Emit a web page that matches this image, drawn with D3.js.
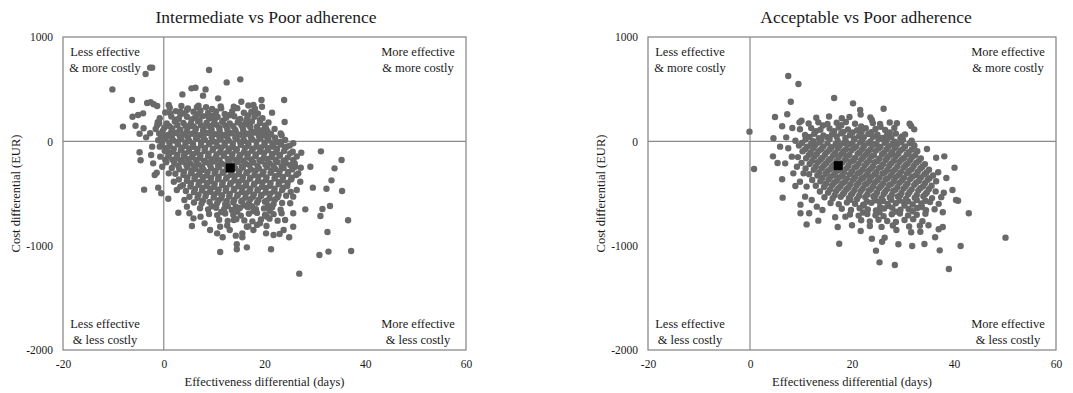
<!DOCTYPE html>
<html>
<head>
<meta charset="utf-8">
<script src="https://cdn.jsdelivr.net/npm/d3@7/dist/d3.min.js"></script>
<style>
  body { margin: 0; background: #fff; }
  svg text { font-family: "Liberation Serif", "Times New Roman", serif; fill: #1a1a1a; }
</style>
</head>
<body>
<div id="chart"></div>
<script>
// axis ticks (shared by both panels)
const xTicks = [-20, 0, 20, 40, 60];
const yTicks = [1000, 0, -1000, -2000];
const titles = ["Intermediate vs Poor adherence", "Acceptable vs Poor adherence"];
const xLabel = "Effectiveness differential (days)";
const yLabel = "Cost differential (EUR)";
const quadTL = ["Less effective", "& more costly"];
const quadTR = ["More effective", "& more costly"];
const quadBL = ["Less effective", "& less costly"];
const quadBR = ["More effective", "& less costly"];

// mean ICER point per panel [days, EUR]
const meanIntermediate = [13.2, -255];
const meanAcceptable = [17.3, -233];

// bootstrap replicates [days, EUR]
const intermediatePts = [
  [-10.2,498],[-8.1,141],[-6.3,396],[-6.2,236],[-5.6,150],[-5.1,252],[-4.8,73],[-4.8,-105],[-4.6,-182],[-4.1,268],
  [-3.9,-463],[-3.6,645],[-2.7,706],[-2.3,706],[-3.3,367],[-2.6,374],[-2.0,355],[-1.3,339],[-4.0,125],[-3.5,38],
  [-2.7,77],[-2.3,-51],[-2.5,-131],[-2.1,-211],[-1.8,-323],[-1.4,-300],[-1.1,-444],[-1.3,153],[-0.9,173],[-0.5,-498],
  [-0.7,-147],[-0.3,-243],[0.9,-550],[9.0,684],[12.5,565],[15.2,594],[3.7,450],[5.5,508],[6.3,514],[8.3,498],
  [7.8,438],[10.8,412],[15.4,380],[19.4,396],[23.9,396],[24.0,185],[21.5,275],[23.4,58],[25.7,-19],[27.3,-109],
  [29.1,-243],[31.2,-96],[35.3,-179],[33.9,-259],[33.3,-374],[32.3,-454],[35.4,-476],[29.6,-444],[31.5,-649],[31.1,-716],
  [33.0,-620],[28.1,-652],[32.5,-869],[36.6,-757],[37.2,-1051],[30.9,-1089],[32.7,-1057],[26.9,-1268],[21.3,-1035],[16.5,-1016],
  [14.5,-1035],[14.5,-987],[11.2,-1061],[11.7,-920],[14.3,-904],[15.6,-882],[15.6,-920],[24.9,-920],[23.0,-888],[21.8,-898],
  [20.3,-882],[5.6,-812],[2.9,-684],[5.1,-690],[5.9,-738],[11.2,-818],
  [1.0,348],[1.3,268],[3.3,284],[4.6,300],[6.6,326],[8.9,236],[11.4,316],[13.2,252],[13.9,332],[17.8,348],
  [18.5,268],[19.1,204],[19.8,109],[20.8,45],[21.8,-51],[23.1,-19],[24.4,-51],[25.1,-115],[25.7,-179],[26.1,-243],
  [26.7,-307],[27.1,-387],[26.4,-466],[25.7,-530],[25.1,-594],[25.7,-690],[24.1,-754],[25.7,-818],[23.8,-850],
  [-0.5,45],[-0.8,-51],[0.7,-99],[0.3,-179],[1.0,-307],[2.0,-387],[2.6,-466],[3.3,-434],[4.1,-562],[4.6,-626],
  [7.3,-722],[8.1,-786],[9.2,-850],[10.6,-882],[13.1,-850],[13.9,-754],[16.5,-818],[17.8,-850],[19.1,-786],[20.5,-722],
  [1.2,322],[3.5,338],[4.8,315],[6.9,341],[8.4,326],[9.6,310],[11.3,335],[14.6,318],[16.8,343],[18.1,312],[19.5,331],
  [0.3,276],[2.4,290],[4.1,268],[5.9,284],[7.3,295],[8.8,271],[10.4,286],[12.1,262],[13.6,290],[15.9,274],[17.4,283],[18.7,266],
  [3.3,258],[6.8,261],[9.8,248],[13.0,251],[16.7,249],
  [-0.8,222],[1.5,238],[3.0,217],[4.6,235],[6.2,226],[7.8,242],[9.1,219],[10.7,233],[12.4,225],[14.0,240],[15.2,214],[16.6,230],[18.0,236],[19.6,221],
  [2.3,208],[5.5,210],[7.1,203],[10.1,207],[11.8,200],[14.9,204],[16.4,197],
  [-1.2,184],[0.6,171],[2.2,189],[3.9,176],[5.4,168],[6.8,191],[8.5,178],[9.9,165],[11.6,187],[13.1,172],[14.7,183],[16.3,169],[17.5,190],[19.1,176],[20.8,181],
  [1.1,146],[2.7,157],[4.3,149],[5.9,143],[7.4,155],[9.0,148],[10.5,158],[12.2,151],[13.8,144],[15.4,156],[17.0,149],[18.5,141],[20.1,153],
  [-1.6,118],[0.1,131],[1.7,124],[3.3,112],[4.8,136],[6.4,120],[7.9,128],[9.5,115],[11.0,133],[12.6,121],[14.2,110],[15.7,127],[17.2,138],[18.6,116],[20.3,124],[22.0,119],
  [-0.2,99],[1.5,92],[3.1,103],[4.6,95],[6.2,88],[7.8,100],[9.4,93],[11.1,104],[12.7,96],[14.3,89],[15.8,101],[17.4,94],[19.0,105],[20.6,97],
  [-0.9,74],[0.8,62],[2.4,79],[4.0,66],[5.6,73],[7.1,58],[8.7,81],[10.2,69],[11.8,60],[13.4,77],[15.0,64],[16.5,72],[18.1,83],[19.7,61],[21.3,70],[23.2,76],
  [0.0,44],[1.6,37],[3.2,48],[4.8,40],[6.4,33],[7.9,45],[9.5,38],[11.0,49],[12.6,41],[14.2,34],[15.8,46],[17.3,39],[18.9,50],[20.5,42],[22.1,35],
  [-1.1,10],[0.4,22],[1.9,8],[3.5,19],[5.1,3],[6.6,25],[8.2,12],[9.8,-2],[11.3,18],[12.9,7],[14.5,21],[16.0,4],[17.6,16],[19.2,27],[20.8,9],[22.4,-4],[24.1,13],
  [-0.3,-10],[1.1,-17],[2.7,-6],[4.3,-14],[5.8,-21],[7.4,-9],[9.0,-16],[10.5,-5],[12.1,-13],[13.7,-20],[15.2,-8],[16.8,-15],[18.4,-4],[20.0,-12],[21.6,-19],[23.2,-7],
  [-0.4,-35],[1.2,-48],[2.8,-31],[4.3,-44],[5.9,-52],[7.4,-37],[9.0,-29],[10.6,-46],[12.1,-40],[13.7,-55],[15.3,-33],[16.8,-43],[18.4,-50],[20.0,-36],[21.6,-45],[23.3,-30],[25.0,-41],
  [0.4,-65],[2.0,-72],[3.6,-61],[5.1,-69],[6.7,-76],[8.2,-64],[9.8,-71],[11.4,-60],[13.0,-68],[14.5,-75],[16.1,-63],[17.7,-70],[19.3,-59],[20.8,-67],[22.5,-74],[24.1,-62],
  [0.2,-90],[1.8,-101],[3.4,-86],[5.0,-97],[6.5,-108],[8.1,-92],[9.7,-84],[11.2,-103],[12.8,-95],[14.4,-88],[15.9,-106],[17.5,-91],[19.1,-99],[20.6,-85],[22.3,-104],[23.9,-93],[25.6,-100],
  [1.1,-120],[2.7,-127],[4.2,-116],[5.8,-124],[7.3,-131],[8.9,-119],[10.5,-126],[12.0,-115],[13.6,-123],[15.2,-130],[16.7,-118],[18.3,-125],[19.9,-114],[21.5,-122],[23.1,-129],
  [0.9,-146],[2.5,-157],[4.0,-141],[5.6,-153],[7.2,-160],[8.8,-144],[10.3,-151],[11.9,-139],[13.5,-158],[15.0,-147],[16.6,-155],[18.2,-142],[19.8,-161],[21.4,-149],[23.0,-138],[24.6,-156],[26.4,-145],
  [1.7,-175],[3.3,-182],[4.8,-171],[6.4,-179],[8.0,-186],[9.5,-174],[11.1,-181],[12.7,-170],[14.3,-178],[15.8,-185],[17.4,-173],[19.0,-180],[20.6,-169],[22.2,-177],[23.8,-184],
  [0.5,-200],[2.1,-212],[3.7,-196],[5.2,-209],[6.8,-218],[8.4,-201],[10.0,-193],[11.5,-214],[13.1,-205],[14.7,-198],[16.3,-216],[17.8,-203],[19.4,-192],[21.0,-210],[22.6,-199],[24.2,-207],[26.0,-213],
  [2.9,-237],[4.5,-226],[6.0,-234],[7.6,-241],[9.2,-229],[10.8,-236],[12.3,-225],[13.9,-233],[15.5,-240],[17.0,-228],[18.6,-235],[20.2,-224],[21.8,-232],[23.4,-239],[25.1,-227],
  [1.6,-255],[3.1,-268],[4.7,-251],[6.3,-263],[7.9,-272],[9.4,-257],[11.0,-248],[12.6,-266],[14.2,-259],[15.7,-252],[17.3,-270],[18.9,-261],[20.5,-247],[22.1,-264],[23.8,-256],[25.5,-269],[27.2,-253],
  [4.0,-292],[5.6,-281],[7.2,-289],[8.7,-296],[10.3,-284],[11.9,-291],[13.4,-280],[15.0,-288],[16.6,-295],[18.2,-283],[19.8,-290],[21.4,-279],[23.0,-287],[24.7,-294],
  [2.3,-311],[3.9,-322],[5.4,-306],[7.0,-318],[8.6,-327],[10.1,-309],[11.7,-301],[13.3,-320],[14.9,-313],[16.4,-305],[18.0,-324],[19.6,-316],[21.2,-302],[22.9,-319],[24.6,-310],[26.3,-323],
  [4.7,-347],[6.2,-336],[7.8,-344],[9.4,-351],[10.9,-339],[12.5,-346],[14.1,-335],[15.7,-343],[17.2,-350],[18.8,-338],[20.4,-345],[22.1,-334],[23.7,-342],[25.4,-349],
  [3.0,-366],[4.6,-378],[6.1,-361],[7.7,-373],[9.3,-382],[10.8,-364],[12.4,-357],[14.0,-376],[15.6,-368],[17.1,-359],[18.7,-380],[20.3,-371],[22.0,-356],[23.6,-374],[25.3,-365],
  [5.4,-402],[7.0,-391],[8.6,-399],[10.1,-406],[11.7,-394],[13.3,-401],[14.9,-390],[16.4,-398],[18.0,-405],[19.6,-393],[21.2,-400],[22.9,-389],[24.6,-397],
  [3.8,-420],[5.3,-433],[6.9,-417],[8.5,-428],[10.0,-437],[11.6,-419],[13.2,-411],[14.8,-431],[16.3,-423],[17.9,-414],[19.5,-435],[21.1,-426],[22.8,-412],[24.5,-429],
  [6.2,-457],[7.7,-446],[9.3,-454],[10.9,-461],[12.4,-449],[14.0,-456],[15.6,-445],[17.2,-453],[18.7,-460],[20.3,-448],[22.0,-455],[23.7,-444],
  [4.4,-476],[6.0,-487],[7.6,-471],[9.2,-483],[10.7,-492],[12.3,-474],[13.9,-466],[15.5,-485],[17.0,-478],[18.6,-469],[20.2,-490],[21.9,-481],[23.5,-467],[25.2,-484],
  [6.9,-512],[8.4,-501],[10.0,-509],[11.6,-516],[13.1,-504],[14.7,-511],[16.3,-500],[17.9,-508],[19.4,-515],[21.1,-503],[22.8,-510],
  [5.1,-531],[6.7,-542],[8.3,-526],[9.9,-538],[11.4,-547],[13.0,-529],[14.6,-521],[16.2,-540],[17.7,-533],[19.3,-524],[21.0,-545],[22.6,-536],[24.3,-522],
  [7.8,-567],[10.9,-564],[12.5,-571],[14.0,-559],[15.6,-566],[17.2,-555],[18.8,-563],[20.4,-570],[22.1,-558],
  [6.0,-586],[7.5,-597],[9.1,-581],[10.6,-593],[12.2,-602],[13.8,-584],[15.4,-576],[16.9,-595],[18.5,-588],[20.1,-579],[21.8,-600],[23.5,-591],
  [9.5,-622],[12.7,-619],[14.3,-626],[15.9,-614],[17.5,-621],[20.7,-618],
  [7.2,-641],[8.8,-652],[10.4,-636],[12.0,-648],[13.5,-657],[15.1,-639],[16.7,-631],[18.3,-650],[19.9,-643],[21.5,-634],[23.2,-655],
  [11.4,-677],[14.6,-674],[17.8,-669],[21.0,-665],
  [9.0,-696],[10.6,-707],[12.2,-691],[13.8,-703],[15.3,-712],[16.9,-694],[18.5,-686],[20.1,-705],[21.8,-698],[23.4,-689],
  [11.0,-751],[12.7,-762],[14.4,-746],[16.0,-758],[17.6,-767],[19.3,-749],[21.0,-741],[22.6,-760],
  [12.6,-806],[16.8,-815],[18.5,-801],[20.4,-812]
];

const acceptablePts = [
  [-0.1,93],[0.8,-265],[7.5,626],[9.5,550],[8.0,380],[7.3,259],[4.9,233],[6.3,144],[8.3,128],[9.7,182],
  [10.1,198],[7.1,38],[4.6,29],[4.5,-144],[5.4,-208],[6.9,-211],[6.3,-364],[6.4,-540],[8.9,-428],[9.9,-607],
  [9.9,-690],[11.1,-796],[13.4,-760],[14.2,-658],[17.5,-981],[17.2,-821],[16.7,-728],[16.5,415],[20.2,364],[21.6,300],
  [21.7,256],[26.2,313],[23.6,230],[23.9,204],[28.8,173],[25.5,166],[31.6,147],[32.2,115],[29.8,48],[32.2,-42],
  [34.7,-73],[36.5,-157],[38.1,-144],[40.1,-252],[36.9,-297],[38.5,-351],[39.7,-466],[40.4,-562],[40.8,-569],[42.9,-690],
  [50.1,-923],[41.3,-1003],[39.0,-1224],[37.2,-1045],[36.3,-920],[34.2,-984],[31.8,-1003],[29.1,-987],[28.4,-1185],[25.4,-1160],
  [24.7,-1048],[23.9,-933],[26.4,-923],[25.9,-962],[37.8,-821],[37.0,-843],[37.8,-680],[35.0,-805],[33.4,-866],[31.6,-872],
  [28.7,-850],[20.0,-805],[21.7,-859],[18.7,-722],
  [5.9,-51],[7.5,-67],[8.2,-147],[9.2,-243],[10.5,-307],[8.5,-307],[9.8,-387],[11.1,-434],[10.8,-530],[12.1,-562],
  [13.1,-626],[11.6,-690],
  [13.0,226],[15.5,238],[18.0,221],[19.5,233],
  [11.5,171],[13.4,182],[15.2,166],[17.0,178],[18.8,186],[20.6,169],[24.1,175],[27.4,181],[31.3,168],
  [14.3,152],[17.9,155],[21.8,143],[25.6,140],
  [9.8,116],[12.0,127],[13.8,111],[15.6,123],[17.4,132],[19.2,114],[21.0,106],[22.7,125],[24.6,118],[26.5,109],[28.3,128],
  [12.9,96],[16.5,98],[18.3,91],[20.1,84],[21.9,95],[23.8,88],[27.4,86],
  [10.8,61],[12.6,72],[14.4,56],[16.1,68],[17.9,77],[19.6,59],[21.4,51],[23.2,70],[25.0,63],[26.8,54],[28.6,74],[30.4,66],
  [11.7,42],[13.5,31],[15.2,40],[17.0,46],[18.7,33],[20.5,27],[22.3,39],[24.1,44],[25.9,32],[27.7,40],[29.5,29],
  [8.9,6],[10.9,17],[12.4,1],[14.0,13],[15.6,22],[17.2,4],[18.8,-4],[20.4,15],[22.0,8],[23.6,-1],[25.2,19],[26.8,11],[28.4,-3],[30.0,14],[31.7,5],
  [10.2,-16],[12.0,-23],[13.6,-12],[15.2,-20],[16.8,-27],[18.4,-15],[20.0,-22],[21.6,-11],[23.2,-19],[24.8,-26],[26.4,-14],[28.0,-21],[29.6,-10],[31.3,-18],
  [9.6,-41],[11.2,-52],[12.8,-36],[14.4,-48],[16.0,-57],[17.6,-39],[19.2,-31],[20.8,-50],[22.4,-43],[24.0,-34],[25.6,-55],[27.2,-46],[28.8,-32],[30.4,-49],[32.2,-40],
  [10.8,-77],[12.4,-66],[14.0,-74],[15.6,-81],[17.2,-69],[18.8,-76],[20.4,-65],[22.0,-73],[23.6,-80],[25.2,-68],[26.8,-75],[28.4,-64],[30.0,-72],[31.7,-79],
  [10.3,-96],[11.9,-107],[13.5,-91],[15.1,-103],[16.7,-112],[18.3,-94],[19.9,-86],[21.5,-105],[23.1,-98],[24.7,-89],[26.3,-110],[27.9,-101],[29.5,-87],[31.1,-104],[32.8,-95],
  [11.5,-132],[13.1,-121],[14.7,-129],[16.3,-136],[17.9,-124],[19.5,-131],[21.1,-120],[22.7,-128],[24.3,-135],[25.9,-123],[27.5,-130],[29.1,-119],[30.7,-127],[32.4,-134],
  [9.4,-151],[11.0,-162],[12.6,-146],[14.2,-158],[15.8,-167],[17.4,-149],[19.0,-141],[20.6,-160],[22.2,-153],[23.8,-144],[25.4,-165],[27.0,-156],[28.6,-142],[30.2,-159],[31.8,-150],[33.5,-163],
  [12.2,-187],[13.8,-176],[15.4,-184],[17.0,-191],[18.6,-179],[20.2,-186],[21.8,-175],[23.4,-183],[25.0,-190],[26.6,-178],[28.2,-185],[29.8,-174],[31.4,-182],[33.1,-189],
  [10.1,-206],[11.7,-217],[13.3,-201],[14.9,-213],[16.5,-222],[18.1,-204],[19.7,-196],[21.3,-215],[22.9,-208],[24.5,-199],[26.1,-220],[27.7,-211],[29.3,-197],[30.9,-214],[32.6,-205],[34.3,-218],
  [12.9,-242],[14.5,-231],[16.1,-239],[17.7,-246],[19.3,-234],[20.9,-241],[22.5,-230],[24.1,-238],[25.7,-245],[27.3,-233],[28.9,-240],[30.5,-229],[32.1,-237],[33.8,-244],
  [10.9,-261],[12.5,-272],[14.1,-256],[15.7,-268],[17.3,-277],[18.9,-259],[20.5,-251],[22.1,-270],[23.7,-263],[25.3,-254],[26.9,-275],[28.5,-266],[30.1,-252],[31.7,-269],[33.4,-260],[35.1,-273],
  [13.6,-297],[15.2,-286],[16.8,-294],[18.4,-301],[20.0,-289],[21.6,-296],[23.2,-285],[24.8,-293],[26.4,-300],[28.0,-288],[29.6,-295],[31.2,-284],[32.9,-292],[34.6,-299],
  [11.6,-316],[13.2,-327],[14.8,-311],[16.4,-323],[18.0,-332],[19.6,-314],[21.2,-306],[22.8,-325],[24.4,-318],[26.0,-309],[27.6,-330],[29.2,-321],[30.8,-307],[32.5,-324],[34.2,-315],[35.9,-328],
  [14.2,-352],[15.8,-341],[17.4,-349],[19.0,-356],[20.6,-344],[22.2,-351],[23.8,-340],[25.4,-348],[27.0,-355],[28.6,-343],[30.2,-350],[31.8,-339],[33.5,-347],[35.2,-354],
  [12.2,-371],[13.8,-382],[15.4,-366],[17.0,-378],[18.6,-387],[20.2,-369],[21.8,-361],[23.4,-380],[25.0,-373],[26.6,-364],[28.2,-385],[29.8,-376],[31.4,-362],[33.1,-379],[34.8,-370],[36.5,-383],
  [14.9,-407],[16.5,-396],[18.1,-404],[19.7,-411],[21.3,-399],[22.9,-406],[24.5,-395],[26.1,-403],[27.7,-410],[29.3,-398],[30.9,-405],[32.6,-394],[34.3,-402],
  [12.9,-426],[14.5,-437],[16.1,-421],[17.7,-433],[19.3,-442],[20.9,-424],[22.5,-416],[24.1,-435],[25.7,-428],[27.3,-419],[28.9,-440],[30.5,-431],[32.2,-417],[33.9,-434],[35.6,-425],
  [15.7,-462],[17.3,-451],[18.9,-459],[20.5,-466],[22.1,-454],[23.7,-461],[25.3,-450],[26.9,-458],[28.5,-465],[30.1,-453],[31.7,-460],[33.4,-449],[35.1,-457],
  [13.7,-481],[15.3,-492],[16.9,-476],[18.5,-488],[20.1,-497],[21.7,-479],[23.3,-471],[24.9,-490],[26.5,-483],[28.1,-474],[29.7,-495],[31.3,-486],[33.0,-472],[34.7,-489],[36.4,-480],[38.0,-493],
  [16.6,-517],[18.2,-506],[19.8,-514],[21.4,-521],[23.0,-509],[24.6,-516],[26.2,-505],[27.8,-513],[29.4,-520],[31.0,-508],[32.7,-515],[34.4,-504],
  [14.6,-536],[16.2,-547],[17.8,-531],[19.4,-543],[21.0,-552],[22.6,-534],[24.2,-526],[25.8,-545],[27.4,-538],[29.0,-529],[30.6,-550],[32.3,-541],[34.0,-527],[35.7,-544],[37.5,-535],
  [19.7,-561],[22.9,-576],[24.5,-564],[26.1,-571],[27.7,-560],[29.3,-568],[31.0,-575],[32.7,-563],[34.4,-570],
  [15.8,-591],[17.4,-602],[19.0,-586],[20.6,-598],[22.2,-607],[23.8,-589],[25.4,-581],[27.0,-600],[28.6,-593],[30.2,-584],[31.9,-605],[33.6,-596],[35.3,-582],[37.0,-599],
  [22.3,-616],[25.5,-631],[27.1,-619],[30.3,-615],[33.7,-630],
  [18.0,-646],[19.8,-657],[21.5,-641],[23.1,-653],[24.7,-662],[26.3,-644],[27.9,-636],[29.5,-655],[31.1,-648],[32.8,-639],[34.5,-660],[36.2,-651],
  [22.2,-682],[25.4,-679],[28.6,-674],[31.9,-670],
  [19.6,-701],[21.3,-712],[23.0,-696],[24.6,-708],[26.2,-717],[27.8,-699],[29.4,-691],[31.0,-710],[32.7,-703],[34.4,-694],
  [21.8,-756],[23.5,-767],[25.2,-751],[26.9,-763],[28.6,-772],[30.3,-754],[32.0,-746],[33.8,-765],
  [23.5,-811],[25.8,-820],[28.0,-806],[31.2,-817],[33.3,-808]
];

const width = 1073, height = 393;
const svg = d3.select("#chart").append("svg")
  .attr("width", width)
  .attr("height", height);

function drawPanel(left, right, titleX, title, pts, mean, yLabelX) {
  const top = 37, bottom = 350;
  const x = d3.scaleLinear().domain([-20, 60]).range([left, right]);
  const y = d3.scaleLinear().domain([-2000, 1000]).range([bottom, top]);
  const g = svg.append("g");

  // title
  g.append("text")
    .attr("x", titleX).attr("y", 23)
    .attr("text-anchor", "middle")
    .style("font-size", "17.5px")
    .text(title);

  // axes, labels only (no tick marks)
  const xAxis = g.append("g")
    .attr("transform", `translate(0,${bottom})`)
    .call(d3.axisBottom(x).tickValues(xTicks).tickSize(0).tickPadding(10).tickFormat(d => String(d)));
  const yAxis = g.append("g")
    .attr("transform", `translate(${left},0)`)
    .call(d3.axisLeft(y).tickValues(yTicks).tickSize(0).tickPadding(10).tickFormat(d => String(d)));
  [xAxis, yAxis].forEach(a => {
    a.select(".domain").remove();
    a.selectAll("text")
      .style("font-family", '"Liberation Serif", "Times New Roman", serif')
      .style("font-size", "11.5px")
      .attr("fill", "#1a1a1a");
  });

  g.append("text")
    .attr("x", (left + right) / 2).attr("y", 386)
    .attr("text-anchor", "middle")
    .style("font-size", "12.5px")
    .text(xLabel);
  g.append("text")
    .attr("transform", `translate(${yLabelX},${(top + bottom) / 2}) rotate(-90)`)
    .attr("text-anchor", "middle")
    .style("font-size", "12.5px")
    .text(yLabel);

  // quadrant lines
  g.append("line")
    .attr("x1", x(0)).attr("x2", x(0)).attr("y1", top).attr("y2", bottom)
    .attr("stroke", "#8a8a8a").attr("stroke-width", 1.2);
  g.append("line")
    .attr("x1", left).attr("x2", right).attr("y1", y(0)).attr("y2", y(0))
    .attr("stroke", "#8a8a8a").attr("stroke-width", 1.2);

  // quadrant labels
  const quads = [
    [quadTL, x(-20) + 42, 56],
    [quadTR, x(60) - 48, 56],
    [quadBL, x(-20) + 42, 328],
    [quadBR, x(60) - 48, 328]
  ];
  quads.forEach(([lines, qx, qy]) => {
    lines.forEach((t, i) => {
      g.append("text")
        .attr("x", qx).attr("y", qy + i * 15.5)
        .attr("text-anchor", "middle")
        .style("font-size", "12.5px")
        .text(t);
    });
  });

  // replicate points
  g.append("g").selectAll("circle")
    .data(pts)
    .enter().append("circle")
    .attr("cx", d => x(d[0]))
    .attr("cy", d => y(d[1]))
    .attr("r", 3.2)
    .attr("fill", "#696969");

  // mean
  g.append("rect")
    .attr("x", x(mean[0]) - 4.5).attr("y", y(mean[1]) - 4.5)
    .attr("width", 9).attr("height", 9)
    .attr("fill", "#000");

  // plot border
  g.append("rect")
    .attr("x", left).attr("y", top)
    .attr("width", right - left).attr("height", bottom - top)
    .attr("fill", "none")
    .attr("stroke", "#8a8a8a").attr("stroke-width", 1.3);
}

drawPanel(63, 466, 266, titles[0], intermediatePts, meanIntermediate, 20);
drawPanel(648, 1056, 866, titles[1], acceptablePts, meanAcceptable, 605);
</script>
</body>
</html>
